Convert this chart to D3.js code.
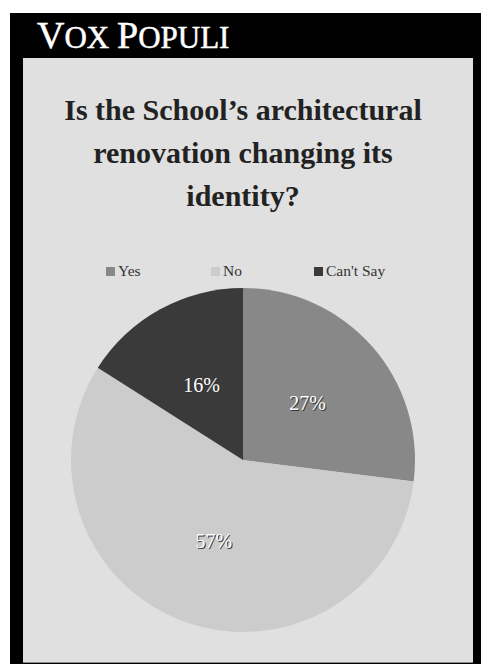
<!DOCTYPE html>
<html>
<head>
<meta charset="utf-8">
<script src="https://cdn.jsdelivr.net/npm/d3@7"></script>
<style>
  html, body { margin: 0; padding: 0; background: #ffffff; }
  svg { display: block; }
  text { font-family: "Liberation Serif", "DejaVu Serif", serif; }
</style>
</head>
<body>
<script>
// Poll results
const categories = ["Yes", "No", "Can't Say"];
const values = [27, 57, 16];
const colors = ["#888888", "#cccccc", "#3a3a3a"];
const titleLines = ["Is the School\u2019s architectural", "renovation changing its", "identity?"];

const W = 481, H = 664;
const svg = d3.select("body").append("svg").attr("width", W).attr("height", H);

// Black frame and header band
svg.append("rect").attr("x", 10).attr("y", 13).attr("width", W - 10).attr("height", H - 13).attr("fill", "#000");
// Light grey panel
svg.append("rect").attr("x", 23).attr("y", 58).attr("width", 450).attr("height", 605).attr("fill", "#e0e0e0");
svg.append("rect").attr("x", 23).attr("y", 662).attr("width", 450).attr("height", 1).attr("fill", "#8a8a8a");

// Header: "Vox Populi" in small caps
const header = svg.append("text").attr("x", 37).attr("y", 48).attr("fill", "#fff")
  .attr("stroke", "#fff").attr("stroke-width", 0.5);
[["V", 38], ["OX ", 31], ["P", 38], ["OPULI", 31]].forEach(([t, s]) => {
  header.append("tspan").attr("font-size", s).text(t);
});

// Title
const title = svg.append("g").attr("font-weight", "bold").attr("fill", "#222").attr("text-anchor", "middle");
titleLines.forEach((line, i) => {
  title.append("text").attr("x", 243).attr("y", 120 + i * 43).attr("font-size", 30).text(line);
});

// Legend
const legendX = [106, 211, 314];
const legend = svg.append("g");
categories.forEach((c, i) => {
  legend.append("rect").attr("x", legendX[i]).attr("y", 267).attr("width", 9).attr("height", 9).attr("fill", colors[i]);
  legend.append("text").attr("x", legendX[i] + 12).attr("y", 276).attr("font-size", 15.5).attr("fill", "#333").text(c);
});

// Pie
const cx = 243, cy = 460, r = 172;
const pie = d3.pie().sort(null).value(d => d)(values);
const arc = d3.arc().innerRadius(0).outerRadius(r);
const g = svg.append("g").attr("transform", `translate(${cx},${cy})`);
g.selectAll("path").data(pie).join("path")
  .attr("d", arc)
  .attr("fill", (d, i) => colors[i]);

// Percentage labels with a soft dark shadow
const total = d3.sum(values);
const labels = g.selectAll("g.lbl").data(pie).join("g").attr("class", "lbl")
  .attr("transform", d => `translate(${arc.centroid(d)})`);
labels.append("text")
  .attr("text-anchor", "middle").attr("dy", "0.35em").attr("x", 1).attr("y", 1)
  .attr("font-size", 20).attr("fill", "#333")
  .text(d => Math.round(d.value / total * 100) + "%");
labels.append("text")
  .attr("text-anchor", "middle").attr("dy", "0.35em")
  .attr("font-size", 20).attr("fill", "#fff")
  .text(d => Math.round(d.value / total * 100) + "%");
</script>
</body>
</html>
